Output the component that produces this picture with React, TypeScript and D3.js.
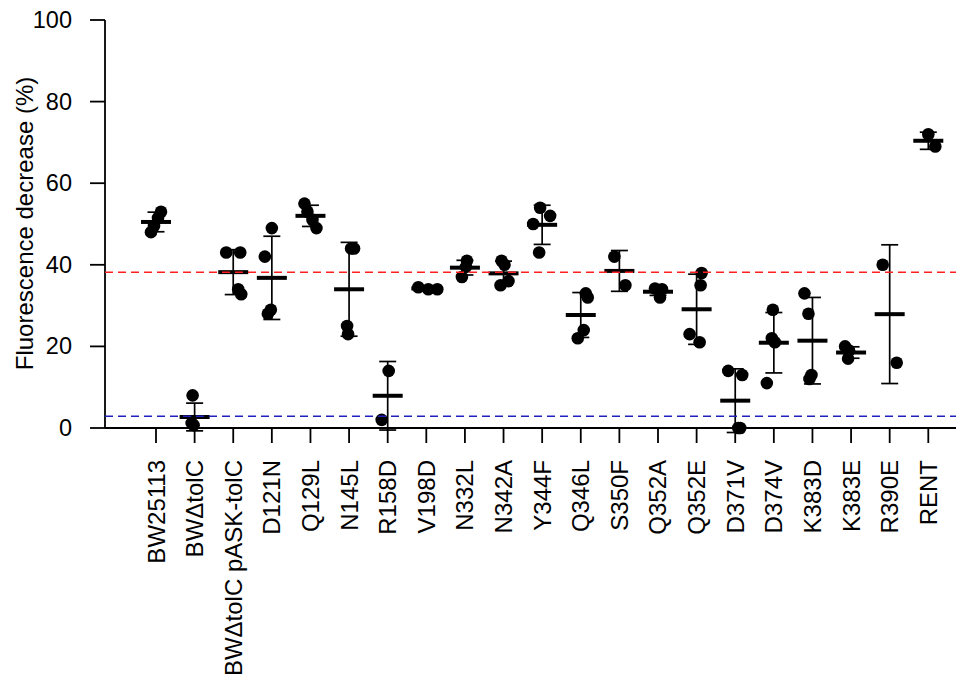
import React from "react";
import * as d3 from "d3";

const categories = [
  "BW25113", "BWΔtolC", "BWΔtolC pASK-tolC", "D121N", "Q129L", "N145L", "R158D",
  "V198D", "N332L", "N342A", "Y344F", "Q346L", "S350F", "Q352A", "Q352E",
  "D371V", "D374V", "K383D", "K383E", "R390E", "RENT",
];

const means = [50.5, 2.7, 38.2, 36.8, 52.0, 34.0, 7.9, 34.2, 39.3, 37.9, 49.8, 27.7, 38.5, 33.4, 29.1, 6.7, 20.9, 21.4, 18.5, 27.9, 70.4];
const sds = [2.4, 3.4, 5.5, 10.2, 2.6, 11.5, 8.4, 0.4, 1.8, 3.0, 4.8, 5.5, 5.0, 0.9, 8.6, 7.8, 7.4, 10.6, 1.4, 17.0, 2.1];

const pointValues = [
  [53, 51.5, 49.5, 48],
  [8, 1.2, 0.7],
  [43, 43, 34, 32.8],
  [49, 42, 29, 28],
  [55, 53, 51, 49],
  [44, 44, 25, 23],
  [14, 2],
  [34.5, 34, 34],
  [41, 39.5, 37],
  [41, 40, 35, 36],
  [54, 52, 50, 43],
  [33, 32, 24, 22],
  [42, 35],
  [34.2, 34, 32],
  [38, 35, 23, 21],
  [14, 13, 0, 0],
  [29, 22, 11, 21],
  [33, 28, 13, 12],
  [20, 19, 17],
  [40, 16],
  [72, 69],
];

// horizontal jitter of each point, in pixels from the category centre
const pointJitter = [
  [5, 2, -2, -5],
  [-2, -3, -1],
  [-7, 7, 5, 8],
  [0, -7, -1, -4],
  [-6, -3, 2, 6],
  [2, 5, -2, -1],
  [1, -6],
  [-8, 2, 11],
  [2, 1, -3],
  [-2, 1, -3, 5],
  [-2, 8, -9, -3],
  [5, 7, 3, -3],
  [-5, 6],
  [-3, 4, 2],
  [5, 4, -7, 3],
  [-7, 7, 5, 3],
  [-1, -2, -7, 1],
  [-8, -4, -1, -3],
  [-6, -2, -3],
  [-7, 7],
  [0, 7],
];

const yTicks = [0, 20, 40, 60, 80, 100];
const refLines = [
  { value: 38.2, color: "#ff2020" },
  { value: 2.9, color: "#2020c0" },
];

const W = 970;
const H = 691;
const FONT = "'Liberation Sans', Arial, Helvetica, sans-serif";

export default function App() {
  const y = d3.scaleLinear().domain([0, 100]).range([428, 20]);
  const x = d3.scalePoint<string>().domain(categories).range([156, 928.3]);
  const axisX0 = 105;
  const axisX1 = 956;
  const y0 = y(0);

  return (
    <svg
      width={W}
      height={H}
      style={{ position: "absolute", left: 0, top: 0, background: "#fff" }}
      fontFamily={FONT}
    >
      {/* y axis */}
      <line x1={axisX0} x2={axisX0} y1={y(100)} y2={y(0)} stroke="#000" strokeWidth={1.8} />
      {yTicks.map((t) => (
        <g key={t}>
          <line x1={axisX0 - 15} x2={axisX0} y1={y(t)} y2={y(t)} stroke="#000" strokeWidth={1.8} />
          <text x={72} y={y(t)} textAnchor="end" dominantBaseline="central" fontSize={23.5}>
            {t}
          </text>
        </g>
      ))}
      <text
        transform={`translate(24, 223.5) rotate(-90)`}
        textAnchor="middle"
        dominantBaseline="central"
        fontSize={24}
      >
        Fluorescence decrease (%)
      </text>

      {/* x axis */}
      <line x1={axisX0} x2={axisX1} y1={y0} y2={y0} stroke="#000" strokeWidth={1.8} />
      {categories.map((c) => (
        <g key={c}>
          <line x1={x(c)} x2={x(c)} y1={y0} y2={y0 + 15} stroke="#000" strokeWidth={1.8} />
          <text
            transform={`translate(${x(c)}, 460) rotate(-90)`}
            textAnchor="end"
            dominantBaseline="central"
            fontSize={24}
          >
            {c}
          </text>
        </g>
      ))}

      {/* points */}
      {categories.map((c, i) =>
        pointValues[i].map((v, j) => (
          <circle key={`${c}-${j}`} cx={(x(c) as number) + pointJitter[i][j]} cy={y(v)} r={6.3} fill="#000" />
        ))
      )}

      {/* error bars and means */}
      {categories.map((c, i) => {
        const cx = x(c) as number;
        const top = y(means[i] + sds[i]);
        const bot = y(means[i] - sds[i]);
        return (
          <g key={`e-${c}`} stroke="#000">
            <line x1={cx} x2={cx} y1={top} y2={bot} strokeWidth={1.7} />
            <line x1={cx - 8.5} x2={cx + 8.5} y1={top} y2={top} strokeWidth={1.7} />
            <line x1={cx - 8.5} x2={cx + 8.5} y1={bot} y2={bot} strokeWidth={1.7} />
            <line x1={cx - 15} x2={cx + 15} y1={y(means[i])} y2={y(means[i])} strokeWidth={4} />
          </g>
        );
      })}

      {/* reference lines */}
      {refLines.map((r) => (
        <line
          key={r.color}
          x1={axisX0}
          x2={axisX1}
          y1={y(r.value)}
          y2={y(r.value)}
          stroke={r.color}
          strokeWidth={1.5}
          strokeDasharray="8,5"
        />
      ))}
    </svg>
  );
}
